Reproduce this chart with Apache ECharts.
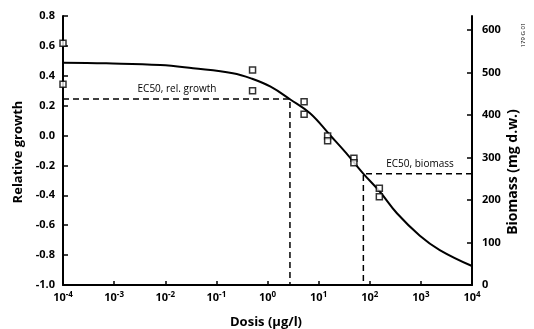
<!DOCTYPE html>
<html><head><meta charset="utf-8">
<script src="https://cdn.jsdelivr.net/npm/echarts@6/dist/echarts.min.js"></script>
<style>html,body{margin:0;padding:0;background:#fff}#c{width:534px;height:329px}</style>
</head><body><div id="c"></div>
<script>
// Fitted curve (dose µg/l, relative growth)
const curveDose = [1e-4, 7e-4, 8e-3, 0.035, 0.21, 0.5, 1.15, 2.75, 6.8, 16.6, 35, 74, 158, 340, 955, 2340, 1e4];
const curveGrowth = [0.487, 0.483, 0.472, 0.45, 0.417, 0.38, 0.327, 0.243, 0.149, 0.004, -0.119, -0.253, -0.376, -0.52, -0.67, -0.766, -0.873];
// Measured points (dose, relative growth)
const pointDose = [1e-4, 1e-4, 0.51, 0.51, 5.2, 5.2, 15, 15, 49, 49, 154, 154];
const pointGrowth = [0.617, 0.343, 0.439, 0.30, 0.227, 0.142, -0.003, -0.034, -0.152, -0.182, -0.353, -0.409];
// EC50 markers
const ec50RelDose = 2.75, ec50RelGrowth = 0.245;
const ec50BioDose = 75, ec50Biomass = 262;
// Axes
const xTicks = [1e-4, 1e-3, 1e-2, 1e-1, 1, 10, 100, 1e3, 1e4];
const leftMin = -1.0, leftMax = 0.8, leftStep = 0.2;
const rightTicks = [0, 100, 200, 300, 400, 500, 600];
const rightMax = 633;

const font = 'Open Sans';
const chart = echarts.init(document.getElementById('c'));
const lbl = {color:'#000', fontFamily:font, fontWeight:'bold', fontSize:11};
chart.setOption({
  animation:false,
  grid:{left:63, right:62, top:16, bottom:44},
  xAxis:{type:'log', logBase:10, min:1e-4, max:1e4,
    axisLine:{onZero:false, lineStyle:{color:'#000', width:2}},
    axisTick:{inside:true, length:4, lineStyle:{color:'#000', width:1.5}, customValues:xTicks},
    minorTick:{show:false}, splitLine:{show:false},
    axisLabel:{customValues:xTicks, margin:6, ...lbl,
      formatter:v=>'10{s|'+Math.round(Math.log10(v))+'}',
      rich:{s:{fontSize:8, fontFamily:font, fontWeight:'bold', color:'#000', verticalAlign:'top', padding:[0,0,6,0]}}}
  },
  yAxis:[
    {type:'value', min:leftMin, max:leftMax, interval:leftStep, position:'left',
     axisLine:{show:true, onZero:false, lineStyle:{color:'#000', width:2}},
     axisTick:{show:true, inside:true, length:5, lineStyle:{color:'#000', width:1.5}},
     splitLine:{show:false},
     axisLabel:{...lbl, margin:8, formatter:v=>v.toFixed(1)}},
    {type:'value', min:0, max:rightMax, position:'right',
     axisLine:{show:true, onZero:false, lineStyle:{color:'#000', width:2}},
     axisTick:{show:true, inside:true, length:5, lineStyle:{color:'#000', width:1.5}, customValues:rightTicks},
     splitLine:{show:false},
     axisLabel:{...lbl, margin:10, customValues:rightTicks}}
  ],
  series:[
    {type:'line', data:curveDose.map((d,i)=>[d,curveGrowth[i]]), smooth:0.4, symbol:'none',
     lineStyle:{color:'#000', width:2}, z:3},
    {type:'line', data:[[1e-4,ec50RelGrowth],[ec50RelDose,ec50RelGrowth],[ec50RelDose,leftMin]], symbol:'none',
     lineStyle:{color:'#000', width:1.5, type:[6,4]}},
    {type:'line', yAxisIndex:1, data:[[1e4,ec50Biomass],[ec50BioDose,ec50Biomass],[ec50BioDose,0]], symbol:'none',
     lineStyle:{color:'#000', width:1.5, type:[6,4]}},
    {type:'scatter', data:pointDose.map((d,i)=>[d,pointGrowth[i]]), symbol:'rect', symbolSize:6,
     itemStyle:{color:'#fff', borderColor:'#000', borderWidth:1.5}, z:5}
  ],
  graphic:[
    {type:'text', x:266, y:322, style:{text:'Dosis (µg/l)', font:'bold 13px "Open Sans"', fill:'#000', align:'center', verticalAlign:'middle'}},
    {type:'text', x:18, y:152, rotation:Math.PI/2, style:{text:'Relative growth', font:'bold 13px "Open Sans"', fill:'#000', align:'center', verticalAlign:'middle'}},
    {type:'text', x:513, y:172, rotation:Math.PI/2, style:{text:'Biomass (mg d.w.)', font:'bold 14px "Open Sans"', fill:'#000', align:'center', verticalAlign:'middle'}},
    {type:'text', x:523, y:35, rotation:Math.PI/2, style:{text:'179 G 01', font:'6px "Open Sans"', fill:'#000', align:'center', verticalAlign:'middle'}},
    {type:'text', x:177, y:89, style:{text:'EC50, rel. growth', font:'10px "Open Sans"', fill:'#000', align:'center', verticalAlign:'middle'}},
    {type:'text', x:420, y:164, style:{text:'EC50, biomass', font:'10px "Open Sans"', fill:'#000', align:'center', verticalAlign:'middle'}}
  ]
});
</script></body></html>
